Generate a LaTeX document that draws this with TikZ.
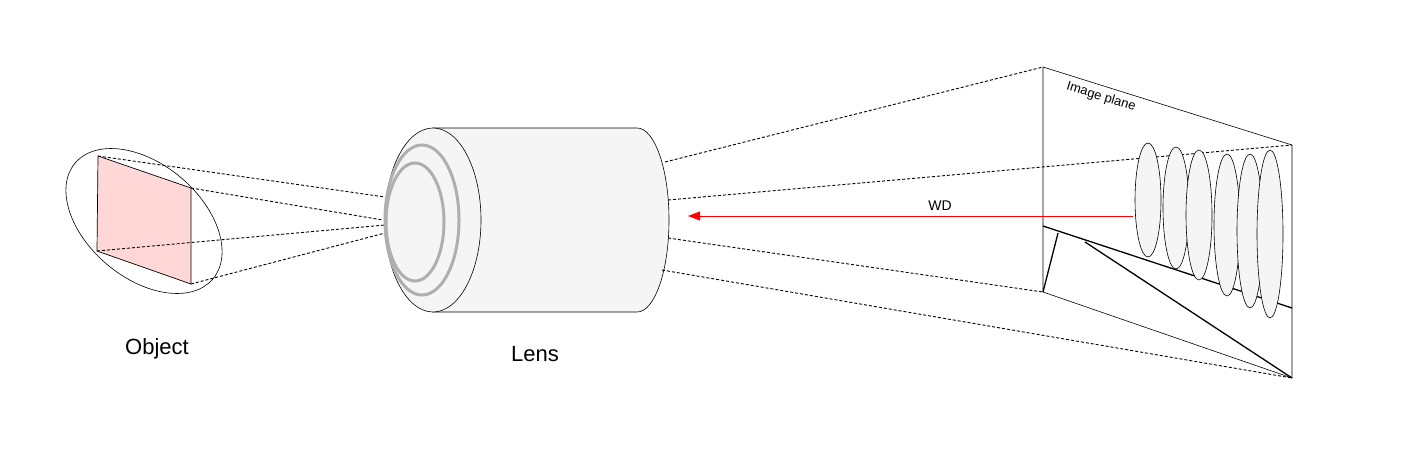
\documentclass[tikz,border=0pt]{standalone}
\usepackage{fontspec}
\setmainfont{Liberation Sans}
\usetikzlibrary{arrows.meta}
\definecolor{objpink}{RGB}{255,215,215}
\definecolor{lensgray}{RGB}{245,245,245}
\definecolor{ringgray}{RGB}{175,175,175}
\tikzset{
  ray/.style={densely dashed, line width=0.9pt},
  thickline/.style={line width=1.3pt},
  spot/.style={draw, fill=lensgray, line width=0.6pt},
}
\begin{document}
\begin{tikzpicture}[x=1pt,y=-1pt]
					\useasboundingbox (0,0) rectangle (1402,450);
					% Object
					\draw[line width=0.6pt] (144,221) ellipse[x radius=90, y radius=57, rotate=-40];
					\coordinate (o1) at (98,156); \coordinate (o2) at (191,188);
					\coordinate (o3) at (191,284); \coordinate (o4) at (97,251);
					\draw[fill=objpink, line width=0.7pt] (o1) -- (o2) -- (o3) -- (o4) -- cycle;
					% Rays to lens
					\draw[ray] (o1) -- (385,197);
					\draw[ray] (o2) -- (383,220);
					\draw[ray] (o4) -- (385,225);
					\draw[ray] (o3) -- (385,233);
					% Lens
					\draw[fill=lensgray, line width=0.6pt] (433,128) -- (637,128) arc[start angle=-90, end angle=90, x radius=32, y radius=92] -- (433,312) -- cycle;
					\draw[fill=lensgray, line width=0.6pt] (433,220) ellipse[x radius=48, y radius=92];
					\draw[ringgray, line width=3pt] (422,220) ellipse[x radius=37, y radius=75];
					\draw[ringgray, line width=3pt] (415,222) ellipse[x radius=29, y radius=59];
					% Image plane
					\coordinate (p1) at (1043,67); \coordinate (p2) at (1292,145);
					\coordinate (p3) at (1292,378); \coordinate (p4) at (1043,292);
					\draw[line width=0.6pt] (p1) -- (p2) -- (p3) -- (p4) -- cycle;
					\draw[thickline] (1043,226) -- (1292,308);
					\draw[thickline] (p4) -- (1058,233);
					\draw[thickline] (1085,242) -- (p3);
					% Rays to image plane
					\draw[ray] (665,162) -- (p1);
					\draw[ray] (668,200) -- (p2);
					\draw[ray] (668,238) -- (p4);
					\draw[ray] (662,270) -- (p3);
					% Spots
					\foreach \cx/\cy/\ry in {1148/200/57,1176/208/61,1199/215/65,1227/225/71,1250/231/77,1270/234/84}
						\draw[spot] (\cx,\cy) ellipse[x radius=13, y radius=\ry];
					% Working distance
					\coordinate (wdA) at (1133,216); \coordinate (wdB) at (688,216);
					\draw[red, line width=1pt, -{Triangle[length=12pt,width=9pt]}] (wdA) -- (wdB);
					\node (wd) at (940,206) {\fontsize{14}{16}\selectfont WD};
					% Labels
					\node[rotate=-17] (plane) at (1101,97) {\fontsize{13}{15}\selectfont Image plane};
					\node (obj) at (157,349) {\fontsize{22}{26}\selectfont Object};
					\node (lens) at (535,354) {\fontsize{22}{26}\selectfont Lens};
				\end{tikzpicture}
\end{document}
